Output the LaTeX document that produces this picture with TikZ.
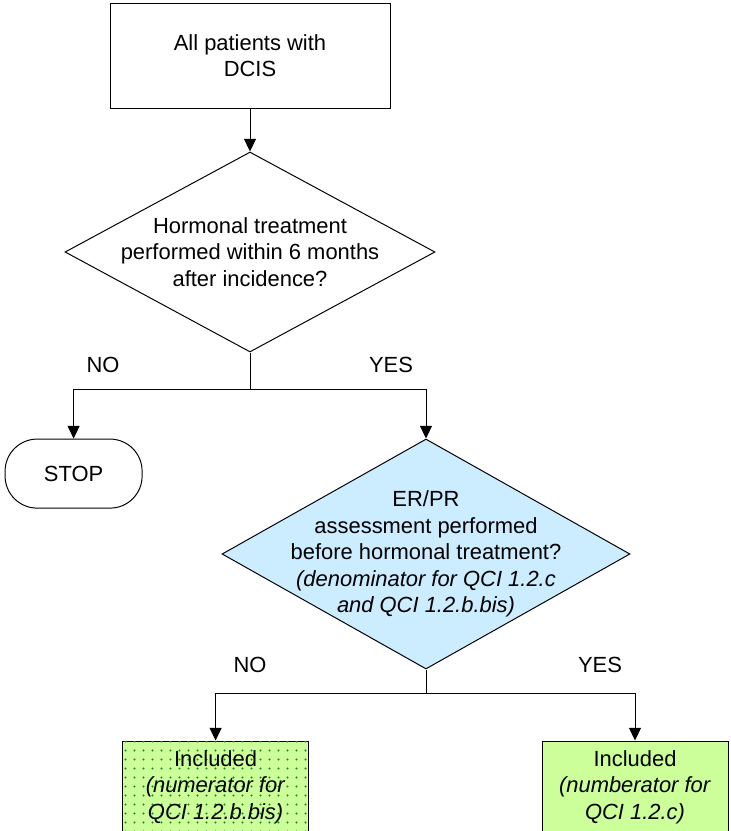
\documentclass[tikz,border=0pt]{standalone}
\usepackage{fontspec}
\setmainfont{Liberation Sans}
\usepackage{xcolor}
\usepackage{tikz}
\usetikzlibrary{shapes,arrows.meta,positioning,patterns.meta}

\definecolor{qblue}{RGB}{204,236,255}
\definecolor{incgreen}{RGB}{204,255,153}
\definecolor{dotgreen}{RGB}{30,130,30}

\begin{document}
\begin{tikzpicture}[line width=0.7pt, every node/.style={font=\fontsize{15.6}{18.8}\selectfont}]

% Flowchart for hormonal treatment in DCIS
\tikzstyle{startbox}=[rectangle, draw=black, line width=0.7pt, minimum width=7cm, minimum height=2.625cm, align=center]
\tikzstyle{decision}=[diamond, draw=black, line width=0.7pt, inner sep=0pt]
\tikzstyle{stopbox}=[rectangle, draw=black, line width=0.7pt, rounded corners=0.8cm, minimum width=3.425cm, minimum height=1.725cm]
\tikzstyle{included}=[rectangle, draw=black, line width=0.7pt, fill=incgreen, minimum width=4.65cm, minimum height=2.3cm, align=center]
\tikzstyle{flow}=[-{Triangle[width=8.5pt, length=9pt]}, line width=0.7pt]

\clip (0,0) rectangle (18.275,-20.775);

% Start
\node[startbox] (all) at (6.25,-1.39) {All patients with\\DCIS};

% First question
\node[decision, minimum width=9.25cm, minimum height=5cm] (q1) at (6.25,-6.3) {};
\node[align=center] (q1text) at (q1.center) {Hormonal treatment\\performed within 6 months\\after incidence?};

% Stop
\node[stopbox] (stop) at (1.84,-11.84) {STOP};

% Second question
\node[decision, fill=qblue, minimum width=10.2cm, minimum height=5.75cm] (q2) at (10.65,-13.85) {};
\node[align=center] (q2text) at (q2.center) {ER/PR\\assessment performed\\before hormonal treatment?\\\textit{(denominator for QCI 1.2.c}\\\textit{and QCI 1.2.b.bis)}};

% Outcomes
\node[included, postaction={pattern={Dots[radius=0.8pt, distance=6.4pt]}, pattern color=dotgreen}] (incl1) at (5.39,-19.675) {Included\\\textit{(numerator for}\\\textit{QCI 1.2.b.bis)}};
\node[included] (incl2) at (15.875,-19.675) {Included\\\textit{(numberator for}\\\textit{QCI 1.2.c)}};

% Branch points
\coordinate (b1) at (6.25,-9.725);
\coordinate (b2) at (10.65,-17.325);

% Arrows
\draw[flow] (all) -- (q1);

\draw (q1) -- (b1);
\draw[flow] (b1) -| (stop);
\draw[flow] (b1) -| (q2);

\draw (q2) -- (b2);
\draw[flow] (b2) -| (incl1);
\draw[flow] (b2) -| (incl2);

% Labels
\node (no1) at (2.575,-9.125) {NO};
\node (yes1) at (9.775,-9.125) {YES};
\node (no2) at (6.25,-16.625) {NO};
\node (yes2) at (15,-16.625) {YES};

\end{tikzpicture}
\end{document}
